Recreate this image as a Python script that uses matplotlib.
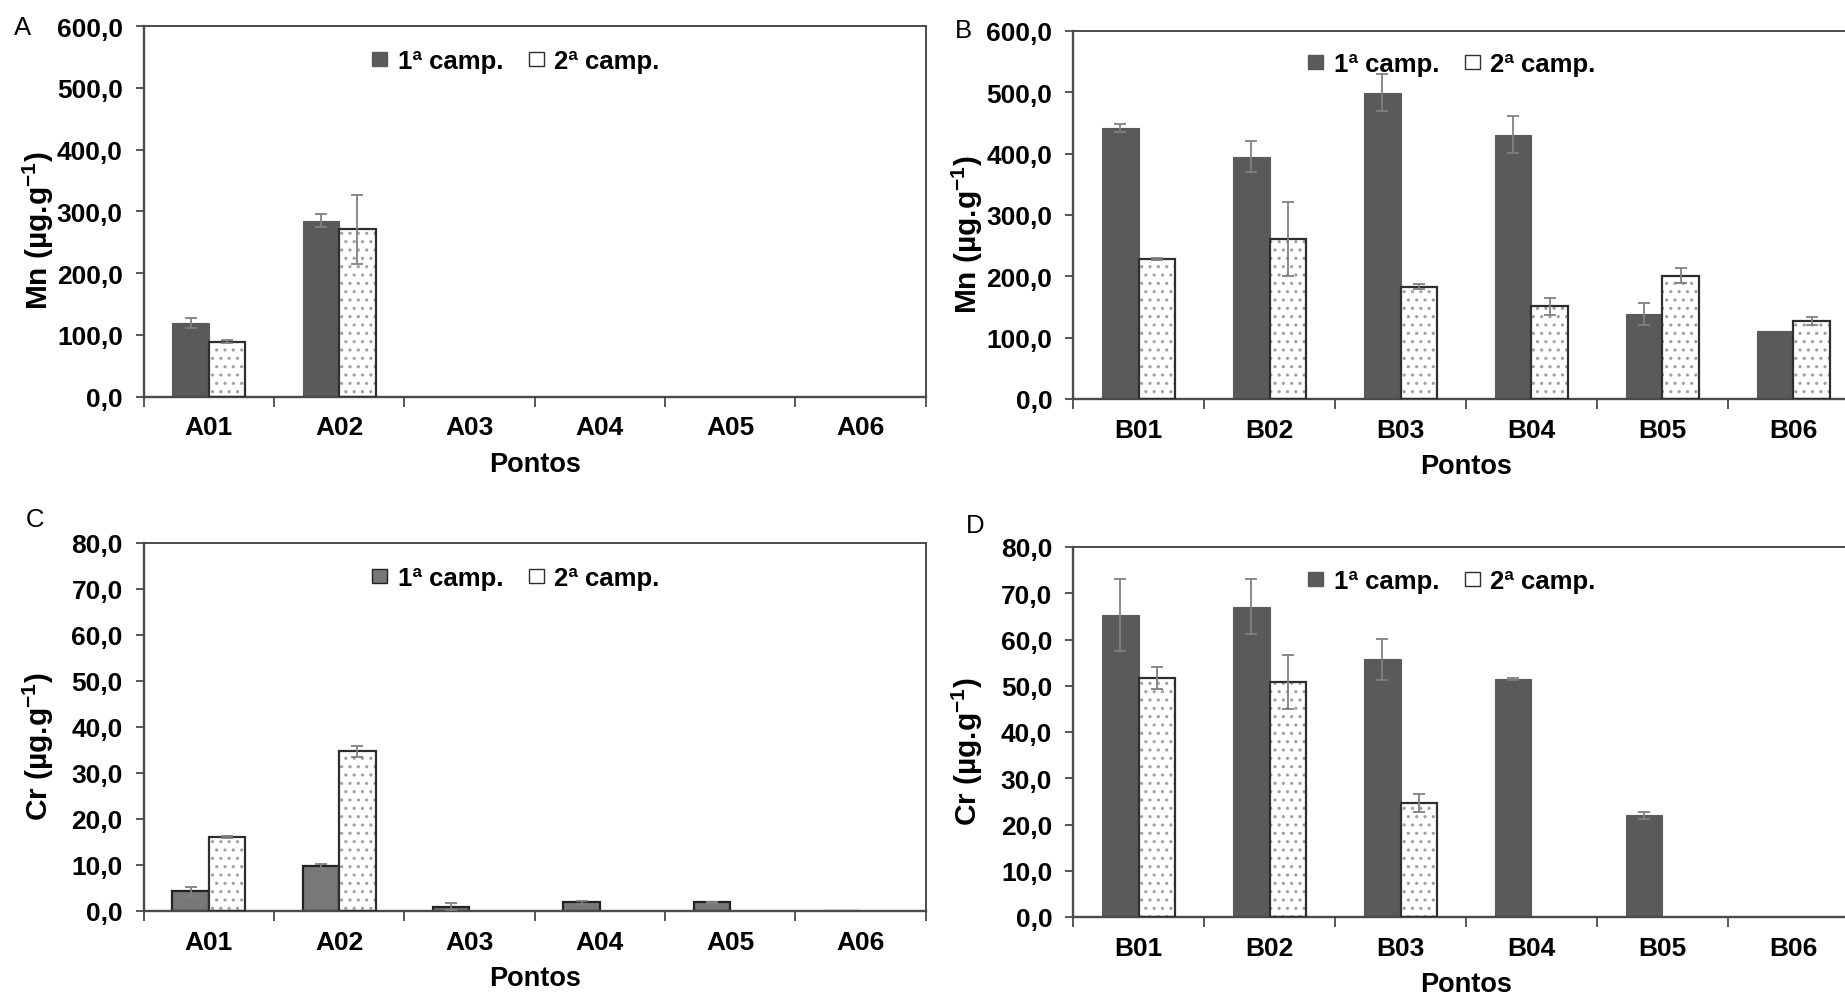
import numpy as np
import matplotlib
matplotlib.use("Agg")
import matplotlib.pyplot as plt
from matplotlib.ticker import FuncFormatter, FixedLocator
from matplotlib.patches import Patch

# ---------------- data ----------------
pontos_A = ["A01", "A02", "A03", "A04", "A05", "A06"]
pontos_B = ["B01", "B02", "B03", "B04", "B05", "B06"]
legend_labels = ["1ª camp.", "2ª camp."]

mn_A_c1 = [119.0, 285.0, 0.0, 0.0, 0.0, 0.0]
mn_A_c1_err = [8.0, 11.0, 0.0, 0.0, 0.0, 0.0]
mn_A_c2 = [89.0, 271.0, 0.0, 0.0, 0.0, 0.0]
mn_A_c2_err = [2.0, 56.0, 0.0, 0.0, 0.0, 0.0]

mn_B_c1 = [441.0, 395.0, 499.0, 431.0, 139.0, 111.0]
mn_B_c1_err = [6.5, 25.0, 30.0, 30.0, 18.0, 0.0]
mn_B_c2 = [228.0, 261.0, 183.0, 151.0, 201.0, 127.0]
mn_B_c2_err = [1.0, 60.0, 4.0, 13.5, 12.0, 7.0]

cr_A_c1 = [4.3, 9.7, 0.95, 1.9, 1.9, 0.0]
cr_A_c1_err = [1.0, 0.6, 0.7, 0.35, 0.1, 0.0]
cr_A_c2 = [16.1, 34.7, 0.0, 0.0, 0.0, 0.0]
cr_A_c2_err = [0.15, 1.2, 0.0, 0.0, 0.0, 0.0]

cr_B_c1 = [65.3, 67.1, 55.7, 51.5, 22.0, 0.0]
cr_B_c1_err = [7.7, 5.9, 4.4, 0.2, 0.8, 0.0]
cr_B_c2 = [51.7, 50.8, 24.7, 0.0, 0.0, 0.0]
cr_B_c2_err = [2.3, 5.9, 1.9, 0.0, 0.0, 0.0]

# ---------------- style ----------------
plt.rcParams["font.family"] = ["Liberation Sans", "DejaVu Sans"]
plt.rcParams["mathtext.fontset"] = "custom"
plt.rcParams["mathtext.rm"] = "Liberation Sans:bold"
plt.rcParams["mathtext.it"] = "Liberation Sans:bold"
plt.rcParams["mathtext.bf"] = "Liberation Sans:bold"
plt.rcParams["hatch.linewidth"] = 1.1

SPINE = "#4a4a4a"
DARK = "#5a5a5a"
ERR = "#808080"
DOT = "#a0a0a0"
FS = 18.5

fig = plt.figure(figsize=(18.45, 9.95), dpi=100)
W, H = 1845.0, 995.0


def make_ax(left, top, width, bottom):
    return fig.add_axes([left / W, 1 - bottom / H, width / W, (bottom - top) / H])


def panel(ax, cats, v1, e1, v2, e2, ymax, ystep, ylabel, c1color, c1edge, legxy):
    x = np.arange(len(cats))
    w = 0.28
    v1 = np.asarray(v1); v2 = np.asarray(v2)
    e1 = np.asarray(e1); e2 = np.asarray(e2)

    # first campaign
    if c1edge is None:
        ax.bar(x - w / 2, v1, width=w, color=c1color, edgecolor=c1color, linewidth=0.8,
               zorder=2)
    else:
        ax.bar(x - w / 2, v1, width=w, color=c1color, edgecolor=c1edge, linewidth=1.6,
               zorder=2)
    # second campaign (dotted fill, then dark outline)
    m2 = v2 > 0
    ax.bar((x + w / 2)[m2], v2[m2], width=w, color="white", edgecolor=DOT, hatch="..",
           linewidth=0, zorder=2)
    ax.bar((x + w / 2)[m2], v2[m2], width=w, fill=False, edgecolor="#2e2e2e",
           linewidth=1.6, zorder=3)

    # error bars
    m = e1 > 0
    ax.errorbar((x - w / 2)[m], v1[m], yerr=e1[m], fmt="none", ecolor=ERR,
                elinewidth=1.3, capsize=4, capthick=1.3, zorder=4)
    m = e2 > 0
    ax.errorbar((x + w / 2)[m], v2[m], yerr=e2[m], fmt="none", ecolor=ERR,
                elinewidth=1.3, capsize=4, capthick=1.3, zorder=4)

    ax.set_xlim(-0.5, len(cats) - 0.5)
    ax.set_ylim(0, ymax)
    ax.set_yticks(np.arange(0, ymax + ystep / 2, ystep))
    ax.yaxis.set_major_formatter(FuncFormatter(lambda v, p: f"{v:.1f}".replace(".", ",")))
    ax.set_xticks(x)
    ax.set_xticklabels(cats)
    ax.xaxis.set_minor_locator(FixedLocator(np.arange(-0.5, len(cats), 1.0)))
    ax.tick_params(axis="x", which="major", length=0, pad=13.5, labelsize=FS + 0.5)
    ax.tick_params(axis="x", which="minor", length=7, width=1.3, color=SPINE, direction="out")
    ax.tick_params(axis="y", which="major", length=6, width=1.3, color=SPINE,
                   direction="out", pad=9, labelsize=FS + 0.5)
    for lab in ax.get_xticklabels() + ax.get_yticklabels():
        lab.set_fontweight("bold")

    for s in ["left", "bottom", "top", "right"]:
        ax.spines[s].set_color(SPINE)
        ax.spines[s].set_linewidth(1.4)
    ax.spines["bottom"].set_linewidth(1.7)
    ax.spines["left"].set_linewidth(1.7)

    ax.set_xlabel("Pontos", fontsize=FS + 1, fontweight="bold")
    ax.xaxis.set_label_coords(0.5, -0.146)
    ax.set_ylabel(ylabel, fontsize=21.5, fontweight="bold")
    ax.yaxis.set_label_coords(-0.112, 0.45)

    # legend with small squares
    h1 = Patch(facecolor=c1color, edgecolor=c1edge if c1edge else c1color, linewidth=1.0)
    h2 = Patch(facecolor="white", edgecolor="#2e2e2e", linewidth=1.0)
    ax.legend([h1, h2], legend_labels, loc="center", bbox_to_anchor=legxy,
              ncol=2, frameon=False, handlelength=0.6,
              handleheight=0.45, handletextpad=0.4, columnspacing=1.0,
              prop={"weight": "bold", "size": FS})
    return ax


axA = make_ax(143.6, 27.1, 782, 397.7)
axB = make_ax(1073, 31.8, 786, 400.0)
axC = make_ax(143.6, 543.6, 782, 912.0)
axD = make_ax(1073, 548.0, 786, 918.0)

mn_label = r"Mn (µg.g$^{-1}$)"
cr_label = r"Cr (µg.g$^{-1}$)"

panel(axA, pontos_A, mn_A_c1, mn_A_c1_err, mn_A_c2, mn_A_c2_err, 600, 100, mn_label,
      DARK, None, (0.476, 0.906))
panel(axB, pontos_B, mn_B_c1, mn_B_c1_err, mn_B_c2, mn_B_c2_err, 600, 100, mn_label,
      DARK, None, (0.482, 0.910))
panel(axC, pontos_A, cr_A_c1, cr_A_c1_err, cr_A_c2, cr_A_c2_err, 80, 10, cr_label,
      "#787878", "#222222", (0.476, 0.904))
panel(axD, pontos_B, cr_B_c1, cr_B_c1_err, cr_B_c2, cr_B_c2_err, 80, 10, cr_label,
      DARK, None, (0.482, 0.907))

# panel letters
for letter, px, py in [("A", 14, 35), ("B", 955, 38), ("C", 26, 527), ("D", 966, 533)]:
    fig.text(px / W, 1 - py / H, letter, fontsize=FS, ha="left", va="baseline")

fig.savefig("out.png", dpi=100, facecolor="white")
